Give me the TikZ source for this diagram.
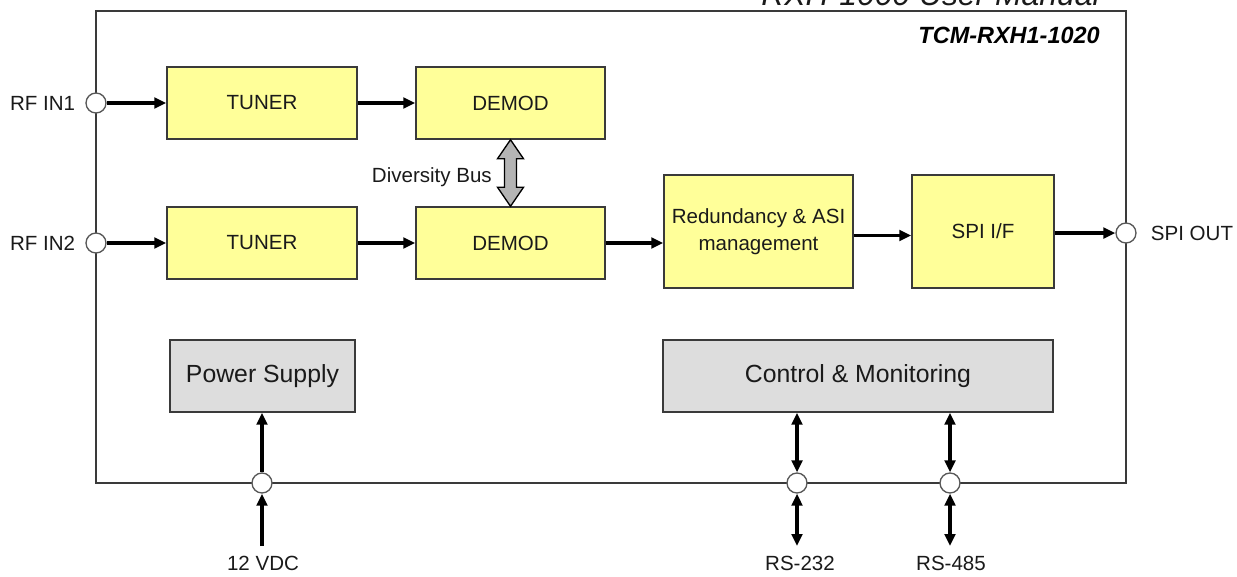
\documentclass[tikz,border=0pt]{standalone}
\usepackage{fontspec}
\setmainfont{Liberation Sans}
\usetikzlibrary{arrows.meta,calc}
\definecolor{ylw}{HTML}{FFFF99}
\definecolor{gry}{HTML}{DDDDDD}
\definecolor{edge}{HTML}{3A3A3A}
\definecolor{ink}{HTML}{1A1A1A}
\definecolor{busfill}{HTML}{B4B4B4}
\def\pxu{0.75pt}
\tikzset{
  blk/.style={draw=edge, line width=1.1pt, fill=ylw, inner sep=0pt, align=center,
    text=ink, font=\fontsize{15.4}{20.2}\selectfont},
  gblk/.style={blk, fill=gry, font=\fontsize{18.6}{22}\selectfont},
  port/.style={circle, draw=edge!85, line width=1pt, fill=white, minimum size=15pt, inner sep=0pt},
  sig/.style={line width=2.5pt, draw=black, -{Triangle[length=9pt,width=8pt]}},
  bisig/.style={line width=2.5pt, draw=black,
    {Triangle[length=9pt,width=8pt]}-{Triangle[length=9pt,width=8pt]}},
  lbl/.style={text=ink, font=\fontsize{15.4}{18}\selectfont, inner sep=0pt},
  busarrow/.style={draw=black, line width=1pt, fill=busfill, line join=miter},
}
\begin{document}
\begin{tikzpicture}[x=0.75pt, y=-0.75pt]
\useasboundingbox (0,0) rectangle (1237,576);

% running page header, cut by the top edge
\begin{scope}
  \clip (0,0) rectangle (1237,576);
  \node[anchor=base east, inner sep=0pt, text=ink,
        font=\fontsize{23.9}{28}\selectfont\itshape] (hdr) at (1100,5) {RXH-1000 User Manual};
\end{scope}

% module outline
\draw[draw=edge, line width=1.3pt] (96,11) rectangle (1126,483);
\node[anchor=base east, inner sep=0pt, text=black,
      font=\fontsize{17.6}{20}\selectfont\bfseries\itshape] (model) at (1100,43) {TCM-RXH1-1020};

% processing blocks
\node[blk, minimum width=190*\pxu, minimum height=72*\pxu] (tun1) at (262,103) {TUNER};
\node[blk, minimum width=189*\pxu, minimum height=72*\pxu] (dem1) at (510.5,103) {DEMOD};
\node[blk, minimum width=190*\pxu, minimum height=72*\pxu] (tun2) at (262,243) {TUNER};
\node[blk, minimum width=189*\pxu, minimum height=72*\pxu] (dem2) at (510.5,243) {DEMOD};
\node[blk, minimum width=189*\pxu, minimum height=113*\pxu] (red) at (758.5,231.5) {Redundancy \& ASI\\management};
\node[blk, minimum width=142*\pxu, minimum height=113*\pxu] (spi) at (983,231.5) {SPI I/F};
\node[gblk, minimum width=185*\pxu, minimum height=72*\pxu] (psu) at (262.5,376) {Power Supply};
\node[gblk, minimum width=390*\pxu, minimum height=72*\pxu] (ctl) at (858,376) {Control \& Monitoring};

% connectors on the module outline
\node[port] (in1) at (96,103) {};
\node[port] (in2) at (96,243) {};
\node[port] (out) at (1126,233) {};
\node[port] (pw) at (262,483) {};
\node[port] (p232) at (797,483) {};
\node[port] (p485) at (950,483) {};

% signal path
\draw[sig] (in1) -- (tun1);
\draw[sig] (tun1) -- (dem1);
\draw[sig] (in2) -- (tun2);
\draw[sig] (tun2) -- (dem2);
\draw[sig] (dem2.east) -- (dem2.east -| red.west);
\draw[sig] ([yshift=-4*\pxu]red.east) -- ([yshift=-4*\pxu]red.east -| spi.west);
\draw[sig] (spi.east |- out) -- (out);

% diversity bus between the demodulators
\coordinate (bt) at (dem1.south);
\coordinate (bb) at (dem2.north);
\draw[busarrow] (bt) -- ($(bt)+(13,19)$) -- ($(bt)+(6,19)$) -- ($(bb)+(6,-19)$)
  -- ($(bb)+(13,-19)$) -- (bb) -- ($(bb)+(-13,-19)$) -- ($(bb)+(-6,-19)$)
  -- ($(bt)+(-6,19)$) -- ($(bt)+(-13,19)$) -- cycle;
\node[lbl, anchor=base east] (lbus) at (492,182) {Diversity Bus};

% power and control lines
\coordinate (vin) at (262,546);
\coordinate (t232) at (797,546);
\coordinate (t485) at (950,546);
\draw[sig] (vin) -- (pw);
\draw[sig] (pw) -- (pw |- psu.south);
\draw[bisig] (p232) -- (p232 |- ctl.south);
\draw[bisig] (t232) -- (p232);
\draw[bisig] (p485) -- (p485 |- ctl.south);
\draw[bisig] (t485) -- (p485);

% external labels
\node[lbl, anchor=east] (lin1) at ([xshift=-10*\pxu]in1.west) {RF IN1};
\node[lbl, anchor=east] (lin2) at ([xshift=-10*\pxu]in2.west) {RF IN2};
\node[lbl, anchor=west] (lout) at ([xshift=14*\pxu]out.east) {SPI OUT};
\node[lbl] (l12) at (263,563) {12 VDC};
\node[lbl] (l232) at (800,563) {RS-232};
\node[lbl] (l485) at (951,563) {RS-485};
\end{tikzpicture}
\end{document}
